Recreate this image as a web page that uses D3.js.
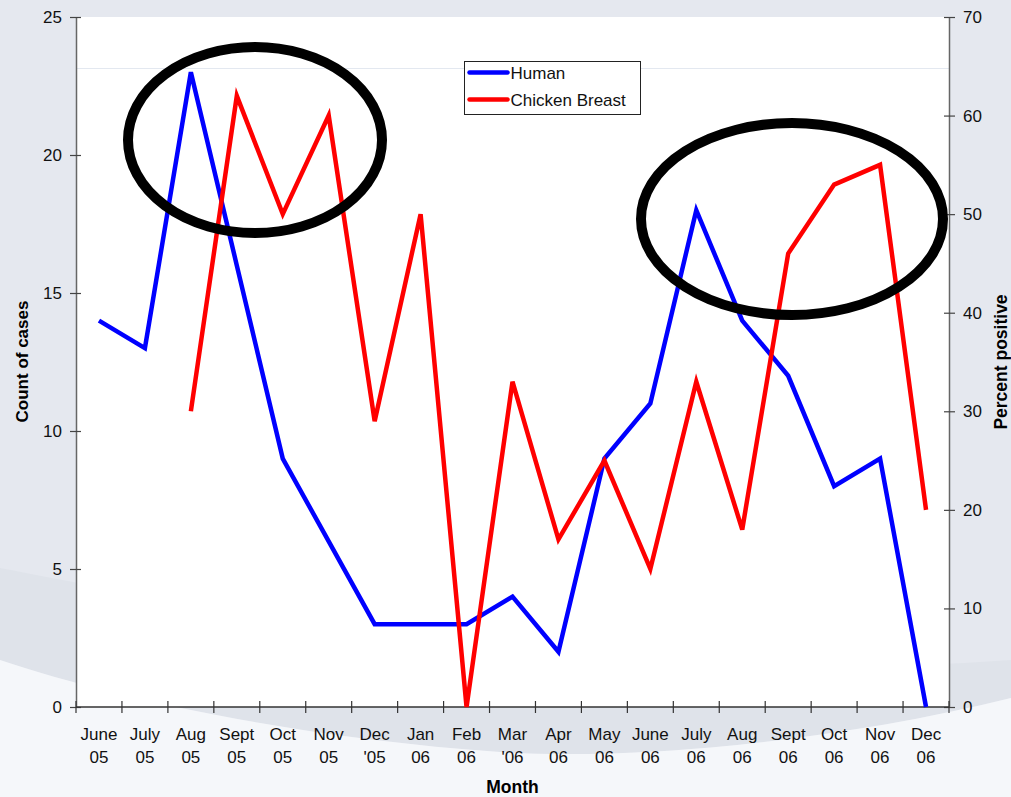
<!DOCTYPE html>
<html>
<head>
<meta charset="utf-8">
<script src="https://cdn.jsdelivr.net/npm/d3@7"></script>
<style>
  html, body { margin: 0; padding: 0; background: #e6eaf0; }
  svg { display: block; font-family: "Liberation Sans", Arial, sans-serif; }
</style>
</head>
<body>
<svg id="chart" width="1011" height="797"></svg>
<script>
// Monthly categories (two-line labels)
const months = [
  ["June", "05"], ["July", "05"], ["Aug", "05"], ["Sept", "05"], ["Oct", "05"],
  ["Nov", "05"], ["Dec", "'05"], ["Jan", "06"], ["Feb", "06"], ["Mar", "'06"],
  ["Apr", "06"], ["May", "06"], ["June", "06"], ["July", "06"], ["Aug", "06"],
  ["Sept", "06"], ["Oct", "06"], ["Nov", "06"], ["Dec", "06"]
];
// Human case counts (left axis)
const human = [14, 13, 23, 16, 9, 6, 3, 3, 3, 4, 2, 9, 11, 18, 14, 12, 8, 9, 0];
// Chicken breast percent positive (right axis); null = not sampled
const chicken = [null, null, 30, 62, 50, 60, 29, 50, 0, 33, 17, 25, 14, 33, 18, 46, 53, 55, 20];
const leftTicks = [0, 5, 10, 15, 20, 25];
const rightTicks = [0, 10, 20, 30, 40, 50, 60, 70];

const svg = d3.select("#chart");
const W = 1011, H = 797;
const m = { left: 76, right: 62, top: 17, bottom: 90 };
const x0 = m.left, x1 = W - m.right, y0 = m.top, y1 = H - m.bottom;

// Slide-style background with soft swooshes
svg.append("rect").attr("width", W).attr("height", H).attr("fill", "#e5e8ef");
svg.append("path")
  .attr("d", "M0,568 C220,610 600,690 1011,660 L1011,698 C820,745 620,760 500,752 C300,738 120,700 0,660 Z")
  .attr("fill", "#dfe3ea");
svg.append("path")
  .attr("d", "M0,660 C120,700 300,738 500,752 C620,760 820,745 1011,698 L1011,797 L0,797 Z")
  .attr("fill", "#f5f7fa");

// Plot area
svg.append("rect").attr("x", x0).attr("y", y0).attr("width", x1 - x0).attr("height", y1 - y0).attr("fill", "#ffffff");
svg.append("line").attr("x1", x0).attr("x2", x1).attr("y1", 68.5).attr("y2", 68.5)
  .attr("stroke", "#e3e8f0").attr("stroke-width", 1);

const x = d3.scaleBand().domain(d3.range(months.length)).range([x0, x1]).paddingInner(0).paddingOuter(0);
const cx = i => x(i) + x.bandwidth() / 2;
const yL = d3.scaleLinear().domain([0, 25]).range([y1, y0]);
const yR = d3.scaleLinear().domain([0, 70]).range([y1, y0]);

const tickFont = 17;
// Left axis
const gL = svg.append("g").attr("transform", `translate(${x0},0)`)
  .call(d3.axisLeft(yL).tickValues(leftTicks).tickSizeInner(6).tickSizeOuter(0).tickPadding(8));
gL.selectAll(".tick line").attr("x2", 5).attr("x1", -6);
// Right axis
const gR = svg.append("g").attr("transform", `translate(${x1},0)`)
  .call(d3.axisRight(yR).tickValues(rightTicks).tickSizeInner(6).tickSizeOuter(0).tickPadding(8));
gR.selectAll(".tick line").attr("x1", -5).attr("x2", 6);
// Bottom axis (ticks at category boundaries)
const gB = svg.append("g").attr("transform", `translate(0,${y1})`);
gB.append("line").attr("x1", x0).attr("x2", x1).attr("stroke", "#333").attr("stroke-width", 1.3);
gB.selectAll("line.tk").data(d3.range(months.length + 1)).join("line").attr("class", "tk")
  .attr("x1", i => x0 + i * x.bandwidth()).attr("x2", i => x0 + i * x.bandwidth())
  .attr("y1", -6).attr("y2", 6).attr("stroke", "#333").attr("stroke-width", 1.2);
const lbl = gB.selectAll("text.ml").data(months).join("text").attr("class", "ml")
  .attr("text-anchor", "middle").attr("font-size", tickFont).attr("fill", "#111");
lbl.append("tspan").attr("x", (d, i) => cx(i)).attr("y", 33).text(d => d[0]);
lbl.append("tspan").attr("x", (d, i) => cx(i)).attr("y", 56).text(d => d[1]);

[gL, gR].forEach(g => {
  g.select(".domain").attr("stroke", "#666").attr("stroke-width", 1.5);
  g.selectAll(".tick line").attr("stroke", "#444").attr("stroke-width", 1.2);
  g.selectAll(".tick text").attr("font-size", tickFont).attr("fill", "#111")
    .attr("font-family", '"Liberation Sans", Arial, sans-serif');
});

// Axis titles
svg.append("text").attr("transform", `translate(28,${(y0 + y1) / 2 - 0.5}) rotate(-90)`)
  .attr("text-anchor", "middle").attr("font-size", 17).attr("font-weight", "bold").text("Count of cases");
svg.append("text").attr("transform", `translate(1007,${(y0 + y1) / 2}) rotate(-90)`)
  .attr("text-anchor", "middle").attr("font-size", 17.5).attr("font-weight", "bold").text("Percent positive");
svg.append("text").attr("x", (x0 + x1) / 2).attr("y", 793)
  .attr("text-anchor", "middle").attr("font-size", 17.5).attr("font-weight", "bold").text("Month");

// Series lines
const lineL = d3.line().defined(d => d != null).x((d, i) => cx(i)).y(d => yL(d));
const lineR = d3.line().defined(d => d != null).x((d, i) => cx(i)).y(d => yR(d));
svg.append("path").datum(human).attr("d", lineL).attr("fill", "none")
  .attr("stroke", "#0000ff").attr("stroke-width", 4.5).attr("stroke-linejoin", "miter");
svg.append("path").datum(chicken).attr("d", lineR).attr("fill", "none")
  .attr("stroke", "#ff0000").attr("stroke-width", 4.5).attr("stroke-linejoin", "miter");

// Highlight ellipses
svg.append("ellipse").attr("cx", 255).attr("cy", 140).attr("rx", 127).attr("ry", 93)
  .attr("fill", "none").attr("stroke", "#000").attr("stroke-width", 10);
svg.append("ellipse").attr("cx", 792).attr("cy", 219).attr("rx", 151).attr("ry", 96)
  .attr("fill", "none").attr("stroke", "#000").attr("stroke-width", 10);

// Legend
const leg = svg.append("g").attr("transform", "translate(464.5,61.5)");
leg.append("rect").attr("width", 176).attr("height", 53).attr("fill", "#fff")
  .attr("stroke", "#222").attr("stroke-width", 1);
[["Human", "#0000ff"], ["Chicken Breast", "#ff0000"]].forEach((d, i) => {
  const yy = 11 + i * 27;
  leg.append("line").attr("x1", 5).attr("x2", 43).attr("y1", yy).attr("y2", yy)
    .attr("stroke", d[1]).attr("stroke-width", 4.5).attr("stroke-linecap", "round");
  leg.append("text").attr("x", 46).attr("y", yy + 6).attr("font-size", 17).attr("fill", "#111").text(d[0]);
});
</script>
</body>
</html>
